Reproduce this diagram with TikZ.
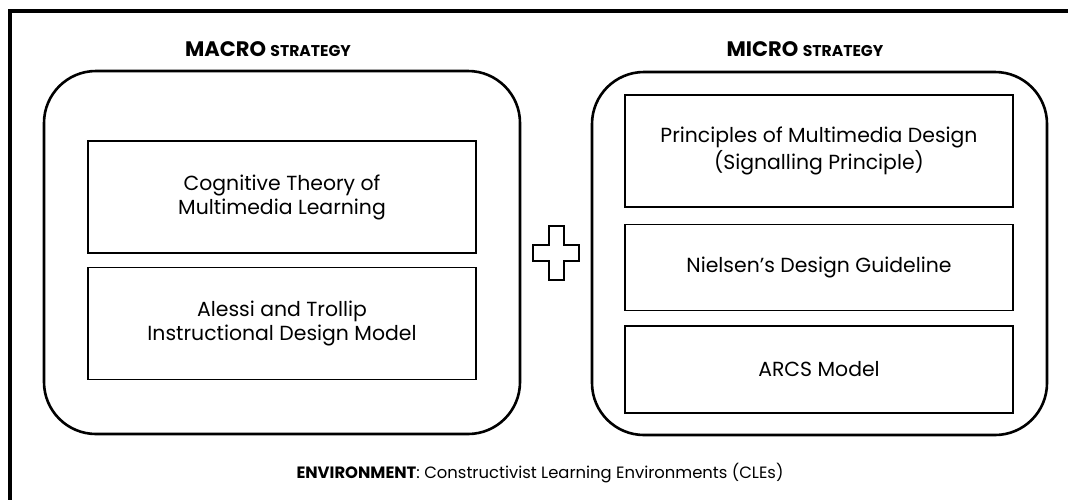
\documentclass[tikz,border=0pt]{standalone}
\usepackage{fontspec}
\setmainfont{Poppins}
\usetikzlibrary{positioning,calc}
\begin{document}
\begin{tikzpicture}[x=0.5pt,y=-0.5pt,
		every node/.style={font=\fontsize{10.2}{12}\selectfont,align=center,inner sep=0},
		frame/.style={line width=2pt},
		strategy/.style={draw,line width=1.3pt,rounded corners=26pt,minimum width=238pt,minimum height=181.5pt},
		theory/.style={draw,line width=0.7pt,minimum width=194pt},
		heading/.style={font=\fontsize{10.5}{12}\selectfont\bfseries,anchor=base},
		plus/.style={line width=1pt,line join=miter}]
		\useasboundingbox (0,0) rectangle (1068,499);
		\draw[frame] (10,530) |- (1090,11);
		\node[strategy] (macro) at (282,252.5) {};
		\node[strategy,minimum width=227.5pt] (micro) at (819.5,253.5) {};
		\node[heading] (macrotitle) at (268,56) {MACRO {\fontsize{7.8}{9}\selectfont STRATEGY}};
		\node[heading] (microtitle) at (805,56) {MICRO {\fontsize{7.8}{9}\selectfont STRATEGY}};
		\node[theory,minimum height=56pt] (cognitive) at (282,197) {Cognitive Theory of\\Multimedia Learning};
		\node[theory,minimum height=56pt,below=6.5pt of cognitive] (alessi) {Alessi and Trollip\\Instructional Design Model};
		\node[theory,minimum height=56pt] (signalling) at (819,151) {Principles of Multimedia Design\\(Signalling Principle)};
		\node[theory,minimum height=43pt,below=8pt of signalling] (nielsen) {Nielsen’s Design Guideline};
		\node[theory,minimum height=43.5pt,below=7pt of nielsen] (arcs) {ARCS Model};
		\coordinate (plus) at ($(macro.east)!0.5!(micro.west)$);
		\draw[plus,shift={(plus)}] (-7.5,-27) -- (7.5,-27) -- (7.5,-8) -- (23,-8) -- (23,8) -- (7.5,8)
			-- (7.5,27) -- (-7.5,27) -- (-7.5,8) -- (-23,8) -- (-23,-8) -- (-7.5,-8) -- cycle;
		\node[anchor=base,font=\fontsize{8.2}{10}\selectfont] (environment) at (540,478) {\textbf{ENVIRONMENT}: Constructivist Learning Environments (CLEs)};
\end{tikzpicture}
\end{document}
